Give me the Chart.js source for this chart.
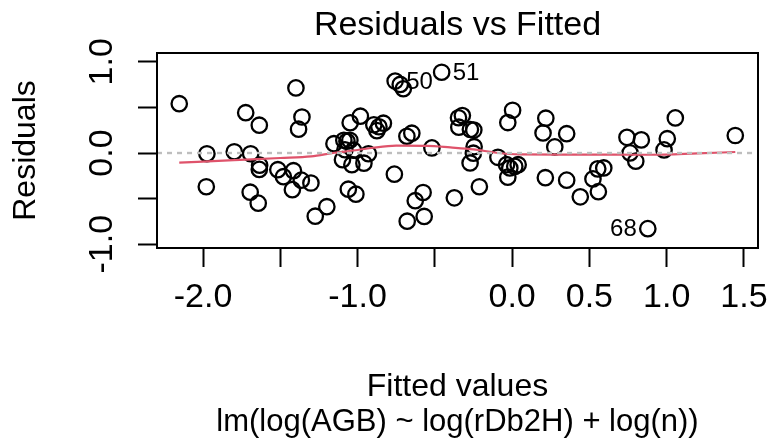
<!DOCTYPE html>
<html><head><meta charset="utf-8">
<script src="https://cdn.jsdelivr.net/npm/chart.js@4/dist/chart.umd.min.js"></script>
<style>html,body{margin:0;padding:0;background:#fff;}#wrap{width:770px;height:443px;}</style>
</head><body><div id="wrap"><canvas id="c" width="770" height="443"></canvas></div>
<script>
const fittedValues = [
 -2.154,-1.975,-1.979,-1.798,-1.724,-1.636,-1.692,-1.634,-1.636,-1.695,
 -1.643,-1.516,-1.480,-1.415,-1.422,-1.364,-1.399,-1.360,-1.382,-1.302,
 -1.274,-1.199,-1.153,-1.089,-1.069,-1.050,-1.082,-1.098,-1.037,-0.959,
 -0.930,-1.027,-1.060,-1.011,-1.048,-0.982,-0.895,-0.862,-0.833,-0.875,
 -0.757,-0.724,-0.704,-0.681,-0.649,-0.519,-0.762,-0.627,-0.576,-0.679,
 -0.569,-0.456,-0.374,-0.347,-0.322,-0.345,-0.270,-0.248,-0.246,-0.251,
 -0.272,-0.212,-0.092,0.003,-0.028,-0.036,-0.015,0.017,0.039,-0.028,
 0.218,0.200,0.353,0.276,0.215,0.353,0.441,0.523,0.554,0.593,
 0.558,0.743,0.836,0.763,0.800,1.056,1.004,0.983,1.444,0.878];
const residuals = [
 0.541,-0.008,-0.370,0.014,0.442,0.305,-0.008,-0.134,-0.180,-0.430,
 -0.550,-0.183,-0.260,-0.194,-0.402,-0.298,0.714,0.395,0.261,-0.329,
 -0.693,-0.589,0.102,0.140,0.129,0.140,0.036,-0.073,-0.128,-0.112,
 -0.008,0.031,-0.397,-0.452,0.332,0.404,0.310,0.288,0.327,0.245,
 0.789,0.752,0.705,0.184,0.217,0.056,-0.232,-0.523,-0.433,-0.748,
 -0.696,0.886,-0.492,0.387,0.411,0.283,0.258,0.252,0.069,-0.002,
 -0.109,-0.370,-0.047,0.469,0.334,-0.128,-0.164,-0.147,-0.128,-0.265,
 0.382,0.220,0.212,0.067,-0.271,-0.298,-0.481,-0.284,-0.174,-0.164,
 -0.424,0.172,0.144,0.001,-0.090,0.385,0.157,0.034,0.192,-0.830];
const idIndex = [40, 51, 89];
const idText = ['50', '51', '68'];
const smoothX = [-2.154,-1.8,-1.5,-1.3,-1.15,-1.0,-0.9,-0.75,-0.55,-0.4,-0.25,-0.1,0.05,0.3,0.6,0.9,1.2,1.444];
const smoothY = [-0.106,-0.078,-0.055,-0.037,0.003,0.033,0.058,0.080,0.078,0.061,0.040,0.003,-0.015,-0.017,-0.018,-0.019,-0.004,0.011];
const xTickValues = [-2,-1.5,-1,-0.5,0,0.5,1,1.5];
const xTickLabels = ['-2.0','','-1.0','','0.0','0.5','1.0','1.5'];
const yTickValues = [-1,-0.5,0,0.5,1];
const yTickLabels = ['-1.0','','0.0','','1.0'];
const mainTitle = 'Residuals vs Fitted';
const xTitle = 'Fitted values';
const subTitle = 'lm(log(AGB) ~ log(rDb2H) + log(n))';
const yTitle = 'Residuals';

const FONT = '"Liberation Sans", Arial, Helvetica, sans-serif';
const TICKSIZE = 34;

const decor = {
  id: 'decor',
  afterDatasetsDraw(chart) {
    const ctx = chart.ctx, a = chart.chartArea, ys = chart.scales.y;
    ctx.save();
    ctx.strokeStyle = '#BEBEBE';
    ctx.lineWidth = 2.4;
    ctx.setLineDash([5, 5]);
    const y0 = ys.getPixelForValue(0);
    ctx.beginPath(); ctx.moveTo(a.left, y0); ctx.lineTo(a.right, y0); ctx.stroke();
    ctx.restore();
    const meta = chart.getDatasetMeta(0);
    ctx.save();
    ctx.fillStyle = '#000';
    ctx.font = '24px ' + FONT;
    ctx.textBaseline = 'middle';
    const mid = (chart.scales.x.min + chart.scales.x.max) / 2;
    idIndex.forEach((idx, k) => {
      const el = meta.data[idx];
      if (fittedValues[idx] < mid) { ctx.textAlign = 'left'; ctx.fillText(idText[k], el.x + 11, el.y + 1); }
      else { ctx.textAlign = 'right'; ctx.fillText(idText[k], el.x - 11, el.y + 1); }
    });
    ctx.restore();
  },
  afterDraw(chart) {
    const ctx = chart.ctx, a = chart.chartArea;
    ctx.save();
    ctx.strokeStyle = '#000';
    ctx.lineWidth = 2;
    ctx.strokeRect(a.left, a.top, a.right - a.left, a.bottom - a.top);
    ctx.fillStyle = '#000';
    ctx.textAlign = 'center';
    ctx.textBaseline = 'alphabetic';
    const cx = (a.left + a.right) / 2;
    ctx.font = '34px ' + FONT;
    ctx.fillText(mainTitle, cx, 35);
    ctx.font = '32px ' + FONT;
    ctx.fillText(xTitle, cx, 396);
    ctx.font = '31px ' + FONT;
    ctx.fillText(subTitle, cx, 431);
    ctx.font = '32px ' + FONT;
    ctx.translate(35, (a.top + a.bottom) / 2);
    ctx.rotate(-Math.PI / 2);
    ctx.fillText(yTitle, 0, 0);
    ctx.restore();
  }
};

new Chart(document.getElementById('c'), {
  type: 'scatter',
  data: {
    datasets: [
      {
        data: fittedValues.map((x, i) => ({x, y: residuals[i]})),
        pointStyle: 'circle',
        pointRadius: 7.7,
        pointBorderWidth: 2.3,
        borderColor: '#000',
        backgroundColor: 'rgba(0,0,0,0)',
        pointHoverRadius: 7.7,
        order: 1
      },
      {
        type: 'line',
        data: smoothX.map((x, i) => ({x, y: smoothY[i]})),
        borderColor: '#DF536B',
        borderWidth: 2.2,
        pointRadius: 0,
        fill: false,
        cubicInterpolationMode: 'monotone',
        order: 0
      }
    ]
  },
  options: {
    responsive: false,
    animation: false,
    devicePixelRatio: 1,
    events: [],
    layout: { padding: { top: 53, right: 12, left: 0, bottom: 0 } },
    plugins: { legend: { display: false }, tooltip: { enabled: false }, title: { display: false } },
    scales: {
      x: {
        type: 'linear', min: -2.298, max: 1.591,
        afterBuildTicks: s => { s.ticks = xTickValues.map(v => ({value: v})); },
        afterFit: s => { s.height = 195; s.paddingLeft = 0; s.paddingRight = 0; },
        grid: { display: true, drawOnChartArea: false, drawTicks: true, tickLength: 19, tickWidth: 2, tickColor: '#000' },
        border: { display: false },
        ticks: {
          autoSkip: false, maxRotation: 0, minRotation: 0, padding: 10, color: '#000',
          font: { family: FONT, size: TICKSIZE },
          callback: v => { const i = xTickValues.indexOf(v); return i >= 0 ? xTickLabels[i] : ''; }
        }
      },
      y: {
        type: 'linear', min: -1.042, max: 1.097,
        afterBuildTicks: s => { s.ticks = yTickValues.map(v => ({value: v})); },
        afterFit: s => { s.width = 157; s.paddingTop = 0; s.paddingBottom = 0; },
        grid: { display: true, drawOnChartArea: false, drawTicks: true, tickLength: 19, tickWidth: 2, tickColor: '#000' },
        border: { display: false },
        ticks: {
          autoSkip: false, minRotation: 90, maxRotation: 90, crossAlign: 'center', padding: 6, color: '#000',
          font: { family: FONT, size: TICKSIZE },
          callback: v => { const i = yTickValues.indexOf(v); return i >= 0 ? yTickLabels[i] : ''; }
        }
      }
    }
  },
  plugins: [decor]
});
</script></body></html>
